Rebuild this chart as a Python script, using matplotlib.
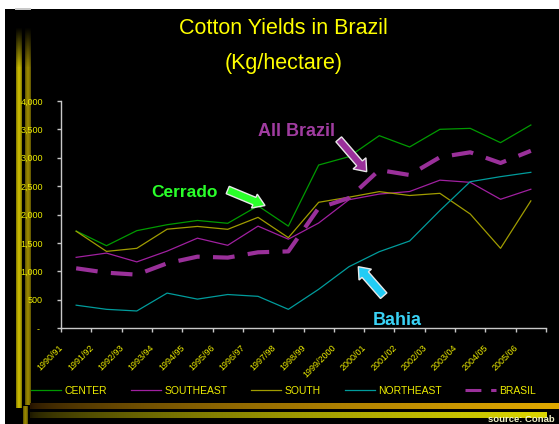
import matplotlib
matplotlib.use("Agg")
import matplotlib.pyplot as plt
import matplotlib.transforms as mtransforms
from matplotlib.patches import FancyArrow, Rectangle
import numpy as np

plt.rcParams['font.family'] = ['Liberation Sans', 'DejaVu Sans']

# ---------------- data ----------------
seasons = ["1990/91", "1991/92", "1992/93", "1993/94", "1994/95", "1995/96",
           "1996/97", "1997/98", "1998/99", "1999/2000", "2000/01", "2001/02",
           "2002/03", "2003/04", "2004/05", "2005/06"]
center = [1709, 1450, 1715, 1820, 1895, 1845, 2153, 1795, 2872, 3019, 3389, 3190, 3501, 3518, 3266, 3577]
southeast = [1245, 1320, 1165, 1355, 1583, 1457, 1795, 1565, 1850, 2260, 2360, 2405, 2605, 2567, 2268, 2445]
south = [1705, 1350, 1404, 1741, 1790, 1739, 1950, 1592, 2215, 2305, 2403, 2335, 2373, 2009, 1404, 2240]
northeast = [402, 329, 300, 615, 509, 590, 558, 329, 682, 1080, 1345, 1533, 2070, 2578, 2667, 2743]
brasil = [1052, 975, 940, 1140, 1257, 1240, 1334, 1350, 2114, 2290, 2784, 2696, 3010, 3096, 2908, 3122]
yticks = [0, 500, 1000, 1500, 2000, 2500, 3000, 3500, 4000]
ytick_labels = ["- ", "500", "1,000", "1,500", "2,000", "2,500", "3,000", "3,500", "4,000"]

W, H = 559, 424
fig = plt.figure(figsize=(W / 100, H / 100), dpi=100, facecolor='white')

def fx(x):
    return x / W

def fy(y):
    return 1 - y / H

# background / decoration axes in pixel coordinates
bg = fig.add_axes([0, 0, 1, 1], zorder=0)
bg.set_xlim(0, W)
bg.set_ylim(H, 0)
bg.axis('off')
bg.add_patch(Rectangle((5, 9), W - 5, H - 9, facecolor='black', edgecolor='none'))
bg.add_patch(Rectangle((15, 8), 16, 2, facecolor='#c8c8c8', edgecolor='none'))

def vbar(x0, x1, y0, y1, base, fade_len=40):
    h = int(y1 - y0)
    w = 8
    img = np.zeros((h, w, 4))
    across = np.linspace(0, np.pi, w)
    shade = 0.65 + 0.35 * np.sin(across)
    for i in range(h):
        a = min(1.0, i / fade_len)
        img[i, :, 0] = base[0] * shade
        img[i, :, 1] = base[1] * shade
        img[i, :, 2] = base[2] * shade
        img[i, :, 3] = a
    bg.imshow(img, extent=(x0, x1, y1, y0), aspect='auto', interpolation='bilinear', zorder=2)

vbar(16, 22, 27, 408, (0.80, 0.74, 0.0))
vbar(25, 31, 27, 405, (0.60, 0.53, 0.0))
vbar(23, 28, 405, 424, (0.60, 0.53, 0.0), fade_len=1)

def hbar(x0, x1, y0, y1, left, right):
    n = 200
    img = np.zeros((1, n, 3))
    t = np.linspace(0, 1, n) ** 0.6
    for k in range(3):
        img[0, :, k] = left[k] + (right[k] - left[k]) * t
    bg.imshow(img, extent=(x0, x1, y1, y0), aspect='auto', interpolation='bilinear', zorder=2)

hbar(30, 559, 403, 409, (0.15, 0.08, 0.0), (0.88, 0.66, 0.0))
hbar(30, 547, 412, 418, (0.12, 0.10, 0.0), (0.86, 0.84, 0.0))

# ---------------- main axes ----------------
left, right, top, bottom = 61, 546, 101, 328
ax = fig.add_axes([fx(left), fy(bottom), (right - left) / W, (bottom - top) / H], zorder=1)
ax.set_facecolor('none')

x = np.arange(len(seasons))
l1, = ax.plot(x, center, color='#009a00', lw=0.9, label='CENTER')
l2, = ax.plot(x, southeast, color='#a020a0', lw=0.9, label='SOUTHEAST')
l3, = ax.plot(x, south, color='#a09c00', lw=0.9, label='SOUTH')
l4, = ax.plot(x, northeast, color='#009c9c', lw=0.9, label='NORTHEAST')
l5, = ax.plot(x, brasil, color='#9a309a', lw=3.0, linestyle=(0, (5.2, 3.2)),
              dash_capstyle='butt', label='BRASIL')

ax.set_xlim(-0.5, len(seasons) - 0.5)
ax.set_ylim(0, 4000)

for s in ['top', 'right']:
    ax.spines[s].set_visible(False)
for s in ['left', 'bottom']:
    ax.spines[s].set_color('#c8c8c8')
    ax.spines[s].set_linewidth(1.0)

ax.set_yticks(yticks)
ax.set_yticklabels(ytick_labels)
ax.tick_params(axis='y', direction='out', length=3, width=1, color='#c8c8c8',
               labelcolor='#ecec00', labelsize=6.5, pad=10)

ax.set_xticks(x)
ax.set_xticklabels(seasons, rotation=45, ha='right', rotation_mode='default')
ax.tick_params(axis='x', which='major', length=0, labelcolor='#ecec00', labelsize=6.5, pad=11)
ax.set_xticks(np.arange(len(seasons) + 1) - 0.5, minor=True)
ax.tick_params(axis='x', which='minor', direction='out', length=3, width=1, color='#c8c8c8')
offset = mtransforms.ScaledTranslation(-11 / 100, 0, fig.dpi_scale_trans)
for lab in ax.get_xticklabels():
    lab.set_transform(lab.get_transform() + offset)

# legend
leg = fig.legend(handles=[l1, l2, l3, l4, l5], loc='center left',
                 bbox_to_anchor=(fx(31), fy(390.6)), ncol=5, frameon=False,
                 fontsize=7.5, handlelength=2.9, handletextpad=0.3,
                 columnspacing=2.3, borderpad=0, borderaxespad=0)
for t in leg.get_texts():
    t.set_color('#ecec00')
for lh in leg.get_lines():
    if lh.get_linewidth() > 2:
        lh.set_linewidth(2.2)

# titles
fig.text(fx(283), fy(33.5), "Cotton Yields in Brazil", color='#ffff00', fontsize=15.5,
         ha='center', va='baseline')
fig.text(fx(284), fy(68.5), "(Kg/hectare)", color='#ffff00', fontsize=15.5,
         ha='center', va='baseline')

# annotations
fig.text(fx(184), fy(197.3), "Cerrado", color='#2aff2a', fontsize=12.5, fontweight='bold',
         ha='center', va='baseline', zorder=3)
fig.text(fx(296.7), fy(136.5), "All Brazil", color='#a03ca0', fontsize=13, fontweight='bold',
         ha='center', va='baseline', zorder=3)
fig.text(fx(397), fy(325), "Bahia", color='#3ad2f5', fontsize=13, fontweight='bold',
         ha='center', va='baseline', zorder=3)

def block_arrow(x0, y0, x1, y1, color, width=8, head_width=16, head_length=11):
    arr = FancyArrow(x0, y0, x1 - x0, y1 - y0, width=width, head_width=head_width,
                     head_length=head_length, length_includes_head=True,
                     facecolor=color, edgecolor='#e8e8e8', linewidth=1.0,
                     transform=bg.transData, zorder=3)
    fig.add_artist(arr)

block_arrow(227.7, 190, 265, 205.5, '#2aff2a', width=8, head_width=15, head_length=11.5)
block_arrow(338.7, 139.3, 366.7, 171.7, '#9a309a', width=7.5, head_width=17, head_length=11)
block_arrow(383.7, 295.7, 358.3, 266.7, '#22ccf5', width=8.5, head_width=16.5, head_length=10.5)

# source
fig.text(fx(555), fy(421.5), "source: Conab", color='#f2f2c8', fontsize=6.8, fontweight='bold',
         ha='right', va='baseline', zorder=3)

fig.savefig('out.png', dpi=100, facecolor=fig.get_facecolor())
